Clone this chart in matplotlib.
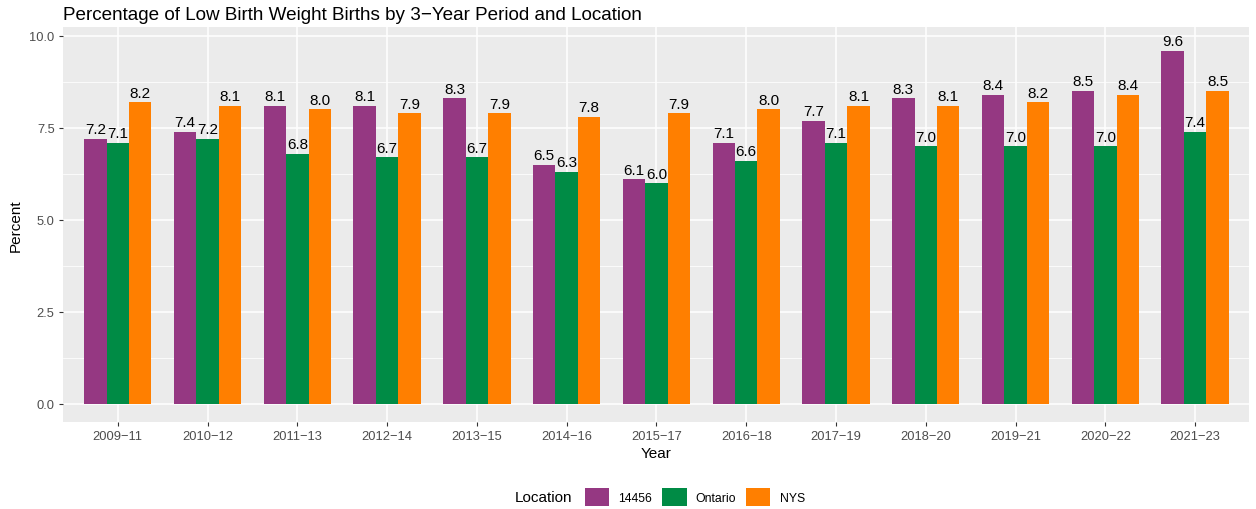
import matplotlib
matplotlib.use("Agg")
from matplotlib import pyplot as plt
from matplotlib.patches import Patch
import numpy as np

plt.rcParams["font.family"] = ["Liberation Sans", "DejaVu Sans"]

periods = ["2009\u221211", "2010\u221212", "2011\u221213", "2012\u221214", "2013\u221215", "2014\u221216",
           "2015\u221217", "2016\u221218", "2017\u221219", "2018\u221220", "2019\u221221", "2020\u221222", "2021\u221223"]
locations = ["14456", "Ontario", "NYS"]
vals_14456 = [7.2, 7.4, 8.1, 8.1, 8.3, 6.5, 6.1, 7.1, 7.7, 8.3, 8.4, 8.5, 9.6]
vals_ontario = [7.1, 7.2, 6.8, 6.7, 6.7, 6.3, 6.0, 6.6, 7.1, 7.0, 7.0, 7.0, 7.4]
vals_nys = [8.2, 8.1, 8.0, 7.9, 7.9, 7.8, 7.9, 8.0, 8.1, 8.1, 8.2, 8.4, 8.5]
colors = ["#953882", "#008B45", "#FF7F00"]

W, H = 1256, 510
fig = plt.figure(figsize=(W / 100, H / 100), dpi=100)
ax = fig.add_axes([63 / W, 1 - 423 / H, (1249 - 63) / W, (423 - 28) / H])
ax.set_facecolor("#EBEBEB")
for s in ax.spines.values():
    s.set_visible(False)

x = np.arange(len(periods))
bw = 0.25
series = [vals_14456, vals_ontario, vals_nys]
for i, (vals, col) in enumerate(zip(series, colors)):
    pos = x + (i - 1) * bw
    ax.bar(pos, vals, width=bw, color=col, zorder=3)
    for px, v in zip(pos, vals):
        ax.text(px, v + 0.07, f"{v:.1f}", ha="center", va="bottom", fontsize=11, color="black", zorder=4)

ax.set_xlim(-0.61, 12.6)
ax.set_ylim(-0.49, 10.24)
ax.set_yticks([0, 2.5, 5, 7.5, 10])
ax.set_yticklabels(["0.0", "2.5", "5.0", "7.5", "10.0"])
ax.set_yticks([1.25, 3.75, 6.25, 8.75], minor=True)
ax.set_xticks(x)
ax.set_xticklabels(periods)
ax.grid(True, which="major", color="white", linewidth=1.1, zorder=0)
ax.grid(True, which="minor", axis="y", color="white", linewidth=0.55, zorder=0)
ax.set_axisbelow(True)
ax.tick_params(which="major", length=3, width=0.8, color="#333333", labelcolor="#4D4D4D", labelsize=9.3, pad=3)
ax.tick_params(which="minor", length=0)

ax.set_xlabel("Year", fontsize=11, labelpad=3)
ax.set_ylabel("Percent", fontsize=11, labelpad=5)
fig.text(63 / W, 1 - 16 / H, "Percentage of Low Birth Weight Births by 3\u2212Year Period and Location",
         fontsize=13.6, ha="left", va="center")

fig.text(515 / W, 1 - 498 / H, "Location", fontsize=11, ha="left", va="center")
handles = [Patch(facecolor=c, edgecolor="none") for c in colors]
fig.legend(handles, locations, loc="center left", bbox_to_anchor=(585 / W, 1 - 498 / H), ncol=3,
           frameon=False, fontsize=8.8, handlelength=2.0, handleheight=1.8, handletextpad=0.75,
           columnspacing=0.8, borderaxespad=0, borderpad=0)

fig.savefig("out.png", dpi=100)
